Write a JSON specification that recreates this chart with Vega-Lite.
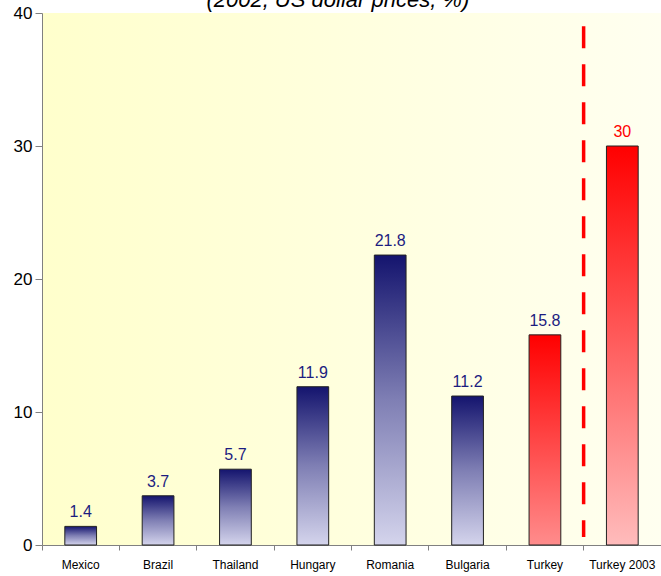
{
  "$schema": "https://vega.github.io/schema/vega-lite/v6.json",
  "autosize": "none",
  "padding": {"left": 42, "top": 13, "right": 0, "bottom": 31},
  "width": 619,
  "height": 532,
  "background": "white",
  "config": {
    "view": {"stroke": null, "fill": {"gradient": "linear", "x1": 0, "y1": 0, "x2": 1, "y2": 0, "stops": [{"offset": 0, "color": "#ffffcc"}, {"offset": 1, "color": "#fffff0"}]}},
    "axis": {"domainColor": "#808080", "tickColor": "#808080", "grid": false, "title": null, "labelColor": "#000000"}
  },
  "data": {"values": [
    {"country": "Mexico", "value": 1.4, "group": "blue"},
    {"country": "Brazil", "value": 3.7, "group": "blue"},
    {"country": "Thailand", "value": 5.7, "group": "blue"},
    {"country": "Hungary", "value": 11.9, "group": "blue"},
    {"country": "Romania", "value": 21.8, "group": "blue"},
    {"country": "Bulgaria", "value": 11.2, "group": "blue"},
    {"country": "Turkey", "value": 15.8, "group": "red"},
    {"country": "Turkey 2003", "value": 30, "group": "red2003"}
  ]},
  "encoding": {
    "x": {"field": "country", "type": "nominal", "sort": null,
      "scale": {"paddingInner": 0, "paddingOuter": 0},
      "axis": {"labelAngle": 0, "bandPosition": 0, "tickSize": 5, "labelPadding": 9, "labelFont": "Liberation Sans Narrow, Arial Narrow, Liberation Sans, sans-serif", "labelFontSize": 12, "domainWidth": 1}}
  },
  "layer": [
    {
      "transform": [{"filter": "datum.group === 'blue'"}],
      "mark": {"type": "bar", "width": {"band": 0.41}, "stroke": "#222222", "strokeWidth": 1,
        "color": {"gradient": "linear", "x1": 0, "y1": 0, "x2": 0, "y2": 1, "stops": [{"offset": 0, "color": "#14146e"}, {"offset": 0.5, "color": "#7f7fb4"}, {"offset": 1, "color": "#d4d4ec"}]}},
      "encoding": {"y": {"field": "value", "type": "quantitative", "scale": {"domain": [0, 40], "nice": false},
        "axis": {"values": [0, 10, 20, 30, 40], "tickSize": 7, "labelPadding": 3, "labelFont": "Liberation Sans", "labelFontSize": 17}}}
    },
    {
      "transform": [{"filter": "datum.group === 'red'"}],
      "mark": {"type": "bar", "width": {"band": 0.41}, "stroke": "#222222", "strokeWidth": 1,
        "color": {"gradient": "linear", "x1": 0, "y1": 0, "x2": 0, "y2": 1, "stops": [{"offset": 0, "color": "#ff0000"}, {"offset": 1, "color": "#ff8c8c"}]}},
      "encoding": {"y": {"field": "value", "type": "quantitative"}}
    },
    {
      "transform": [{"filter": "datum.group === 'red2003'"}],
      "mark": {"type": "bar", "width": {"band": 0.41}, "stroke": "#222222", "strokeWidth": 1,
        "color": {"gradient": "linear", "x1": 0, "y1": 0, "x2": 0, "y2": 1, "stops": [{"offset": 0, "color": "#ff0000"}, {"offset": 1, "color": "#ffbcbc"}]}},
      "encoding": {"y": {"field": "value", "type": "quantitative"}}
    },
    {
      "mark": {"type": "text", "baseline": "bottom", "dy": -6, "font": "Liberation Sans", "fontSize": 16},
      "encoding": {
        "y": {"field": "value", "type": "quantitative"},
        "text": {"field": "value", "type": "quantitative"},
        "color": {"field": "group", "type": "nominal", "scale": {"domain": ["blue", "red", "red2003"], "range": ["#1c1c80", "#1c1c80", "#ff0000"]}, "legend": null}
      }
    },
    {
      "transform": [{"filter": "datum.group === 'red2003'"}],
      "mark": {"type": "rule", "color": "#ff0000", "strokeWidth": 3.5, "strokeDash": [22, 16]},
      "encoding": {
        "x": {"field": "country", "type": "nominal", "bandPosition": 0},
        "y": {"datum": 39, "type": "quantitative"},
        "y2": {"datum": 0.6}
      }
    },
    {
      "data": {"values": [{"title": "(2002, US dollar prices, %)"}]},
      "mark": {"type": "text", "baseline": "alphabetic", "align": "center", "dx": 25, "dy": -6, "font": "Liberation Sans", "fontStyle": "italic", "fontSize": 22, "color": "#000000"},
      "encoding": {
        "x": {"datum": "Hungary"},
        "y": {"datum": 40, "type": "quantitative"},
        "text": {"field": "title", "type": "nominal"}
      }
    }
  ]
}
